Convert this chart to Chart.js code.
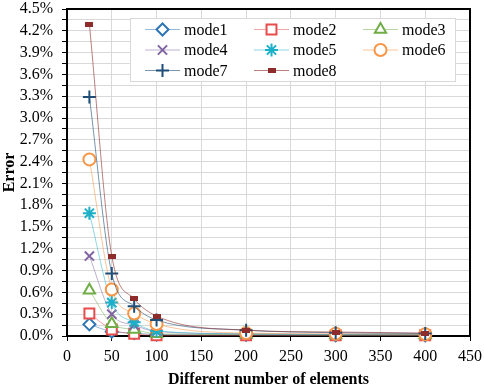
<!DOCTYPE html>
<html>
<head>
<meta charset="utf-8">
<script src="https://cdn.jsdelivr.net/npm/chart.js@4/dist/chart.umd.min.js"></script>
<style>
  html, body { margin: 0; padding: 0; background: #fff; }
  #wrap { width: 484px; height: 386px; }
</style>
</head>
<body>
<div id="wrap"><canvas id="error-chart"></canvas></div>
<script>
'use strict';

// number of elements (x) and error in % (y) per mode
var elements = [25, 50, 75, 100, 200, 300, 400];
var mode1 = [0.16, 0.06, 0.04, 0.02, 0.015, 0.01, 0.01];
var mode2 = [0.31, 0.09, 0.03, 0.01, 0.01, 0.01, 0.01];
var mode3 = [0.63, 0.17, 0.09, 0.03, 0.02, 0.015, 0.015];
var mode4 = [1.10, 0.30, 0.15, 0.06, 0.03, 0.02, 0.02];
var mode5 = [1.69, 0.46, 0.19, 0.07, 0.03, 0.02, 0.02];
var mode6 = [2.43, 0.64, 0.31, 0.165, 0.04, 0.03, 0.025];
var mode7 = [3.29, 0.86, 0.41, 0.22, 0.08, 0.045, 0.035];
var mode8 = [4.29, 1.10, 0.51, 0.275, 0.08, 0.055, 0.04];
var modeNames = ['mode1', 'mode2', 'mode3', 'mode4', 'mode5', 'mode6', 'mode7', 'mode8'];
var xTicks = [0, 50, 100, 150, 200, 250, 300, 350, 400, 450];

var serif = '"Liberation Serif", "Times New Roman", serif';

// small dash-like marker for mode8
var dash = document.createElement('canvas');
dash.width = 8;
dash.height = 5;
var dctx = dash.getContext('2d');
dctx.fillStyle = '#8E2C2C';
dctx.fillRect(0, 0, 8, 5);

var styles = [
    { color: '#2E75B6', line: 'rgba(46,117,182,0.5)', point: 'rectRot', radius: 6 },
    { color: '#E84C4C', line: 'rgba(232,76,76,0.5)', point: 'rect', radius: 7 },
    { color: '#70AD47', line: 'rgba(112,173,71,0.5)', point: 'triangle', radius: 6.5 },
    { color: '#8064A2', line: 'rgba(128,100,162,0.5)', point: 'crossRot', radius: 6.5 },
    { color: '#1CB0C8', line: 'rgba(28,176,200,0.5)', point: 'star', radius: 6.5 },
    { color: '#F79646', line: 'rgba(247,150,70,0.55)', point: 'circle', radius: 6 },
    { color: '#1F4E79', line: 'rgba(31,78,121,0.6)', point: 'cross', radius: 6.5 },
    { color: '#8E2C2C', line: 'rgba(142,44,44,0.6)', point: dash, radius: 4 },
];

var series = [mode1, mode2, mode3, mode4, mode5, mode6, mode7, mode8];

var datasets = series.map(function (values, i) {
    var s = styles[i];
    return {
        label: modeNames[i],
        data: values.map(function (v, j) { return { x: elements[j], y: v }; }),
        borderColor: s.line,
        borderWidth: 1,
        cubicInterpolationMode: 'monotone',
        pointStyle: s.point,
        pointRadius: s.radius,
        pointBorderColor: s.color,
        pointBackgroundColor: i === 7 ? s.color : '#fff',
        pointBorderWidth: 2,
        order: 8 - i,
        clip: false,
    };
});

// black frame round the plot area
var frame = {
    id: 'frame',
    beforeDatasetsDraw: function (chart) {
        var a = chart.chartArea;
        var ctx = chart.ctx;
        ctx.save();
        ctx.strokeStyle = '#000';
        ctx.lineWidth = 2;
        ctx.strokeRect(a.left, a.top, a.right - a.left, a.bottom - a.top);
        ctx.restore();
    },
};

// legend box inside the plot, 3 columns
var boxLegend = {
    id: 'boxLegend',
    afterDraw: function (chart) {
        var ctx = chart.ctx;
        var left = 130, top = 18, w = 325, h = 63;
        ctx.save();
        ctx.fillStyle = '#fff';
        ctx.fillRect(left, top, w, h);
        ctx.strokeStyle = '#D9D9D9';
        ctx.lineWidth = 1;
        ctx.strokeRect(left + 0.5, top + 0.5, w, h);
        var colX = [145, 254, 363];
        var rowY = [29.5, 50, 70.5];
        ctx.font = '16px ' + serif;
        ctx.textBaseline = 'middle';
        chart.data.datasets.forEach(function (ds, i) {
            var x = colX[i % 3];
            var y = rowY[Math.floor(i / 3)];
            ctx.strokeStyle = ds.borderColor;
            ctx.lineWidth = 1;
            ctx.beginPath();
            ctx.moveTo(x, y);
            ctx.lineTo(x + 35, y);
            ctx.stroke();
            ctx.strokeStyle = ds.pointBorderColor;
            ctx.fillStyle = ds.pointBackgroundColor;
            ctx.lineWidth = ds.pointBorderWidth;
            Chart.helpers.drawPoint(ctx, {
                pointStyle: ds.pointStyle,
                radius: ds.pointRadius,
                borderWidth: ds.pointBorderWidth,
                rotation: 0,
            }, x + 17.5, y);
            ctx.fillStyle = '#000';
            ctx.fillText(ds.label, x + 39, y + 1);
        });
        ctx.restore();
    },
};

var errorChart = new Chart(document.getElementById('error-chart'), {
    type: 'line',
    data: { datasets: datasets },
    options: {
        responsive: true,
        maintainAspectRatio: false,
        animation: false,
        layout: { padding: { top: 7, right: 14, left: 0, bottom: 0 } },
        scales: {
            x: {
                type: 'linear',
                min: 0,
                max: 450,
                afterBuildTicks: function (scale) {
                    scale.ticks = xTicks.map(function (v) { return { value: v }; });
                },
                afterFit: function (scale) {
                    scale.height = 50;
                    scale.paddingLeft = 0;
                    scale.paddingRight = 0;
                },
                grid: {
                    color: '#D9D9D9',
                    tickColor: '#000',
                    tickLength: 5,
                },
                border: { display: false },
                ticks: {
                    color: '#000',
                    padding: 6,
                    maxRotation: 0,
                    font: { family: serif, size: 16 },
                },
                title: {
                    display: true,
                    text: 'Different number of elements',
                    color: '#000',
                    padding: { top: 0, bottom: -3 },
                    font: { family: serif, size: 16, weight: 'bold' },
                },
            },
            y: {
                min: 0,
                max: 4.5,
                afterBuildTicks: function (scale) {
                    var t = [];
                    for (var i = 0; i <= 30; i++) {
                        t.push({ value: i * 0.15 });
                    }
                    scale.ticks = t;
                },
                afterFit: function (scale) {
                    scale.width = 67;
                    scale.paddingTop = 0;
                    scale.paddingBottom = 0;
                },
                grid: {
                    color: '#D9D9D9',
                    tickColor: '#000',
                    tickLength: 5,
                },
                border: { display: false },
                ticks: {
                    color: '#000',
                    padding: 9,
                    autoSkip: false,
                    font: { family: serif, size: 16 },
                    callback: function (value, index) {
                        return index % 2 === 0 ? value.toFixed(1) + '%' : '';
                    },
                },
                title: {
                    display: true,
                    text: 'Error',
                    color: '#000',
                    padding: 0,
                    font: { family: serif, size: 16, weight: 'bold' },
                },
            },
        },
        plugins: {
            legend: { display: false },
            tooltip: { enabled: false },
        },
    },
    plugins: [frame, boxLegend],
});
</script>
</body>
</html>
